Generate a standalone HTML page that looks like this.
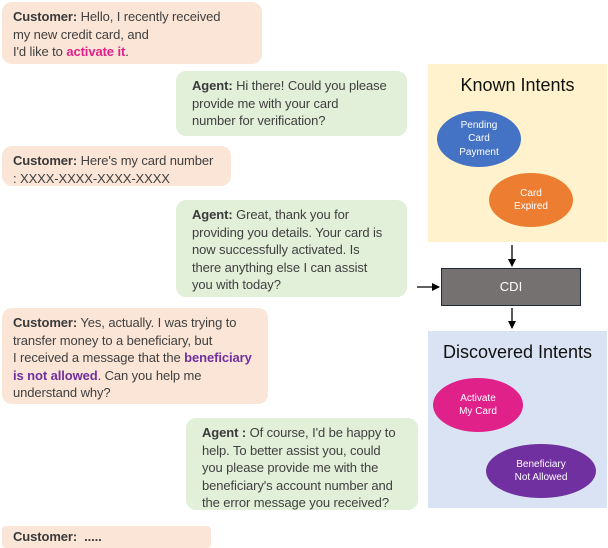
<!DOCTYPE html>
<html><head><meta charset="utf-8"><style>
body{margin:0;width:608px;height:548px;position:relative;background:#fff;font-family:"Liberation Sans",sans-serif;overflow:hidden}
.b{position:absolute;border-radius:10px;font-size:13px;line-height:17.5px;color:#404040;white-space:nowrap;box-sizing:border-box;padding:6px 0 0 11px;letter-spacing:-0.1px}
.c{background:#fbe5d6}
.a{background:#e2efd9;padding-left:16px}
b{color:#3a3a3a}
.pk{color:#e0218a;font-weight:bold}
.pu{color:#7030a0;font-weight:bold}
.panel{position:absolute;left:428px;width:179px}
.t{position:absolute;width:100%;text-align:center;font-size:18px;color:#111}
.e{position:absolute;border-radius:50%;color:#fff;font-size:10px;line-height:13.5px;display:flex;align-items:center;justify-content:center;text-align:center}
</style></head><body>
<div class="b c" style="left:2px;top:2px;width:260px;height:62px"><b>Customer:</b> Hello, I recently received<br>my new credit card, and<br>I'd like to <span class="pk">activate it</span>.</div>
<div class="b a" style="left:176px;top:71px;width:231px;height:65px"><b>Agent:</b> Hi there! Could you please<br>provide me with your card<br>number for verification?</div>
<div class="b c" style="left:2px;top:146px;width:229px;height:40px"><b>Customer:</b> Here's my card number<br>: XXXX-XXXX-XXXX-XXXX</div>
<div class="b a" style="left:176px;top:200px;width:231px;height:97px"><b>Agent:</b> Great, thank you for<br>providing you details. Your card is<br>now successfully activated. Is<br>there anything else I can assist<br>you with today?</div>
<div class="b c" style="left:2px;top:308px;width:266px;height:96px"><b>Customer:</b> Yes, actually. I was trying to<br>transfer money to a beneficiary, but<br>I received a message that the <span class="pu">beneficiary</span><br><span class="pu">is not allowed</span>. Can you help me<br>understand why?</div>
<div class="b a" style="left:186px;top:418px;width:232px;height:92px"><b>Agent :</b> Of course, I'd be happy to<br>help. To better assist you, could<br>you please provide me with the<br>beneficiary's account number and<br>the error message you received?</div>
<div class="b c" style="left:2px;top:526px;width:209px;height:22px;border-radius:4px;padding-top:2px"><b>Customer:&nbsp; .....</b></div>
<div class="panel" style="top:64px;height:178px;background:#fff2cc">
<div class="t" style="top:11px">Known Intents</div>
<div class="e" style="left:9px;top:47px;width:84px;height:56px;background:#4472c4">Pending<br>Card<br>Payment</div>
<div class="e" style="left:61px;top:109px;width:84px;height:54px;background:#ed7d31">Card<br>Expired</div>
</div>
<div class="panel" style="top:331px;height:177px;background:#dae3f3">
<div class="t" style="top:11px">Discovered Intents</div>
<div class="e" style="left:5px;top:47px;width:90px;height:54px;background:#e0218a">Activate<br>My Card</div>
<div class="e" style="left:58px;top:113px;width:110px;height:54px;background:#7030a0">Beneficiary<br>Not Allowed</div>
</div>
<div style="position:absolute;left:441px;top:268px;width:140px;height:38px;box-sizing:border-box;background:#767171;border:1.5px solid #1f2a3a;color:#fff;font-size:13px;line-height:35px;text-align:center">CDI</div>
<svg width="608" height="548" style="position:absolute;left:0;top:0">
<defs><marker id="m" markerWidth="8" markerHeight="8" refX="7" refY="4" orient="auto" markerUnits="userSpaceOnUse"><path d="M0,0L8,4L0,8z" fill="#000"/></marker></defs>
<line x1="512" y1="245" x2="512" y2="266" stroke="#000" stroke-width="1.3" marker-end="url(#m)"/>
<line x1="512" y1="308" x2="512" y2="328" stroke="#000" stroke-width="1.3" marker-end="url(#m)"/>
<line x1="417" y1="287" x2="439" y2="287" stroke="#000" stroke-width="1.3" marker-end="url(#m)"/>
</svg>
</body></html>
